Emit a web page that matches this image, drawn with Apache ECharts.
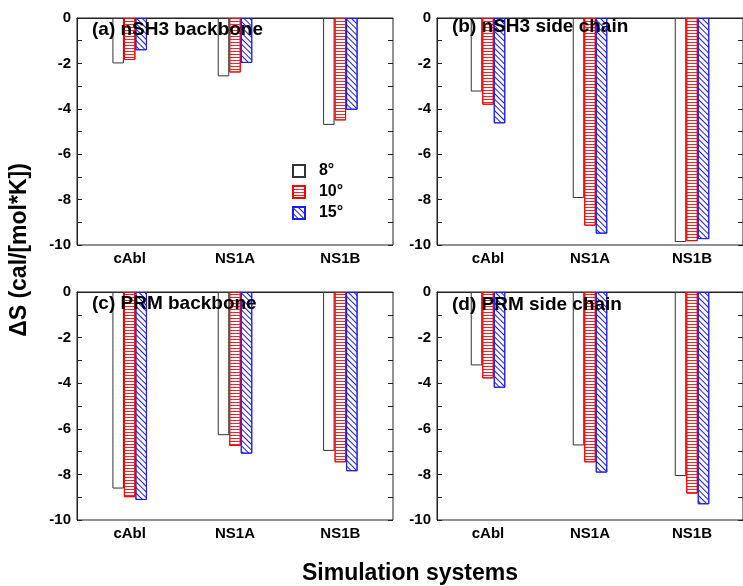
<!DOCTYPE html>
<html>
<head>
<meta charset="utf-8">
<script src="https://cdn.jsdelivr.net/npm/echarts@6/dist/echarts.min.js"></script>
<style>
html,body{margin:0;padding:0;background:#fff;}
#chart{width:743px;height:586px;}
</style>
</head>
<body>
<div id="chart"></div>
<script>
// ---- data ----
const categories = ['cAbl', 'NS1A', 'NS1B'];
const seriesNames = ['8°', '10°', '15°'];
const panelTitles = ['(a) nSH3 backbone', '(b) nSH3 side chain', '(c) PRM backbone', '(d) PRM side chain'];
const yTicks = [0, -2, -4, -6, -8, -10];
// panel (a) nSH3 backbone
const a8 = [-2.0, -2.57, -4.71];
const a10 = [-1.85, -2.40, -4.51];
const a15 = [-1.42, -1.98, -4.04];
// panel (b) nSH3 side chain
const b8 = [-3.24, -7.93, -9.87];
const b10 = [-3.82, -9.15, -9.83];
const b15 = [-4.64, -9.50, -9.74];
// panel (c) PRM backbone
const c8 = [-8.62, -6.28, -6.97];
const c10 = [-9.0, -6.75, -7.47];
const c15 = [-9.12, -7.09, -7.86];
// panel (d) PRM side chain
const d8 = [-3.22, -6.73, -8.07];
const d10 = [-3.79, -7.47, -8.84];
const d15 = [-4.20, -7.92, -9.31];
const panelData = [[a8, a10, a15], [b8, b10, b15], [c8, c10, c15], [d8, d10, d15]];

const chart = echarts.init(document.getElementById('chart'), null, {renderer: 'canvas'});
const FONT = 'Liberation Sans, Arial, Helvetica, sans-serif';

const grids = [
  {left: 77, top: 18, width: 316, height: 227},
  {left: 437, top: 18, width: 309, height: 227},
  {left: 77, top: 292, width: 316, height: 228},
  {left: 437, top: 292, width: 309, height: 228}
];
const titlePos = [[92, 30], [452, 27], [92, 304], [452, 305]];

const styles = [
  {color: '#fff', borderColor: '#333', borderWidth: 1},
  {color: '#fff', borderColor: '#ff0000', borderWidth: 1,
   decal: {symbol: 'rect', symbolSize: 1, color: '#ff2020', dashArrayX: [1, 0], dashArrayY: [1, 2], rotation: 0}},
  {color: '#fff', borderColor: '#1a1aff', borderWidth: 1,
   decal: {symbol: 'rect', symbolSize: 1, color: '#1a1aff', dashArrayX: [1, 0], dashArrayY: [1, 3], rotation: Math.PI / 4}}
];

const option = {
  animation: false,
  backgroundColor: '#fff',
  grid: grids.map(g => Object.assign({show: true, borderColor: '#222', borderWidth: 1, backgroundColor: 'transparent', containLabel: false}, g)),
  xAxis: grids.map((g, i) => ({
    type: 'category', gridIndex: i, data: categories, position: 'bottom',
    axisLine: {show: true, lineStyle: {color: '#222', width: 1}},
    axisTick: {show: false},
    axisLabel: {fontFamily: FONT, fontWeight: 'bold', fontSize: 15, color: '#000', margin: 6}
  })),
  yAxis: [].concat(...grids.map((g, i) => [
    {
      type: 'value', gridIndex: i, min: -10, max: 0, interval: 1, position: 'left',
      axisLine: {show: true, lineStyle: {color: '#222'}},
      axisTick: {show: true, inside: true, length: 5, lineStyle: {color: '#222'}},
      splitLine: {show: false},
      axisLabel: {fontFamily: FONT, fontWeight: 'bold', fontSize: 15, color: '#000', margin: 6,
        formatter: v => (yTicks.indexOf(v) >= 0 ? String(v) : '')}
    },
    {
      type: 'value', gridIndex: i, min: -10, max: 0, interval: 1, position: 'right',
      axisLine: {show: false},
      axisTick: {show: true, inside: true, length: 5, lineStyle: {color: '#222'}},
      splitLine: {show: false},
      axisLabel: {show: false}
    }
  ])),
  legend: {
    show: true, orient: 'vertical', left: 287, top: 158, itemWidth: 12, itemHeight: 12, itemGap: 5,
    icon: 'rect', data: seriesNames,
    textStyle: {fontFamily: FONT, fontWeight: 'bold', fontSize: 16, color: '#000', lineHeight: 13},
    formatter: n => '  ' + n,
    selectedMode: false
  },
  series: [].concat(...panelData.map((arrs, p) => arrs.map((vals, s) => ({
    type: 'bar', name: seriesNames[s], xAxisIndex: p, yAxisIndex: p * 2,
    data: vals, barWidth: 11.5, barGap: '0%',
    itemStyle: styles[s], emphasis: {disabled: true}
  })))),
  graphic: [].concat(
    panelTitles.map((t, i) => ({
      type: 'text', x: titlePos[i][0], y: titlePos[i][1], z: 100,
      style: {text: t, font: 'bold 19px ' + FONT, fill: '#000', align: 'left', verticalAlign: 'middle'}
    })),
    [
      {type: 'text', x: 20, y: 250, rotation: Math.PI / 2, z: 100,
       style: {text: 'ΔS (cal/[mol*K])', font: 'bold 23px ' + FONT, fill: '#000', align: 'center', verticalAlign: 'middle'}},
      {type: 'text', x: 410, y: 574, z: 100,
       style: {text: 'Simulation systems', font: 'bold 23px ' + FONT, fill: '#000', align: 'center', verticalAlign: 'middle'}}
    ]
  )
};
chart.setOption(option);
</script>
</body>
</html>
